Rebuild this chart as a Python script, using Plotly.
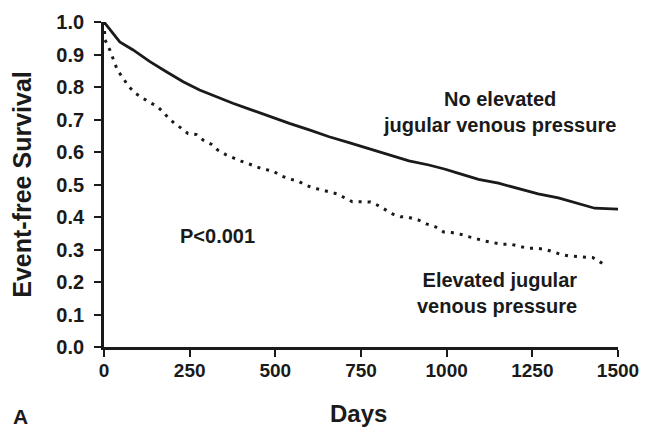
import plotly.graph_objects as go

# Kaplan-Meier curves -----------------------------------------------
days_no_jvp = [0, 3, 46, 85, 134, 182, 231, 279, 328, 376, 424, 483, 541,
               599, 657, 715, 773, 831, 890, 948, 996, 1035, 1093, 1151,
               1209, 1267, 1326, 1384, 1432, 1500]
surv_no_jvp = [1.0, 0.996, 0.939, 0.914, 0.878, 0.847, 0.816, 0.791, 0.770,
               0.750, 0.732, 0.709, 0.688, 0.668, 0.647, 0.629, 0.611, 0.591,
               0.573, 0.560, 0.547, 0.534, 0.516, 0.504, 0.488, 0.471, 0.459,
               0.442, 0.427, 0.424]

days_jvp = [0, 3, 17, 29, 39, 56, 71, 90, 110, 132, 153, 172, 187, 206, 226,
            245, 269, 289, 313, 332, 357, 376, 400, 424, 462, 492, 516, 541,
            565, 589, 608, 633, 657, 681, 706, 725, 749, 778, 797, 817, 843,
            865, 885, 917, 943, 967, 991, 1015, 1040, 1066, 1091, 1112, 1137,
            1161, 1188, 1212, 1236, 1261, 1285, 1311, 1333, 1358, 1382, 1403,
            1427, 1447, 1463]
surv_jvp = [1.0, 0.945, 0.914, 0.880, 0.852, 0.827, 0.803, 0.782, 0.767,
            0.753, 0.742, 0.724, 0.706, 0.688, 0.673, 0.657, 0.654, 0.637,
            0.624, 0.606, 0.591, 0.582, 0.572, 0.563, 0.548, 0.542, 0.527,
            0.517, 0.511, 0.498, 0.490, 0.484, 0.478, 0.471, 0.457, 0.447,
            0.447, 0.446, 0.437, 0.425, 0.409, 0.401, 0.400, 0.391, 0.378,
            0.370, 0.354, 0.352, 0.347, 0.339, 0.331, 0.326, 0.321, 0.316,
            0.316, 0.311, 0.304, 0.304, 0.301, 0.293, 0.285, 0.280, 0.278,
            0.276, 0.275, 0.262, 0.252]

x_ticks = [0, 250, 500, 750, 1000, 1250, 1500]
y_ticks = [0.0, 0.1, 0.2, 0.3, 0.4, 0.5, 0.6, 0.7, 0.8, 0.9, 1.0]

ink = '#1a1a1a'
font = 'Liberation Sans'


def txt(size):
    return dict(family=font, size=size, color=ink, weight='bold')


fig = go.Figure()

fig.add_trace(go.Scatter(x=days_no_jvp, y=surv_no_jvp, mode='lines',
                         line=dict(color=ink, width=2.8),
                         name='No elevated jugular venous pressure'))
fig.add_trace(go.Scatter(x=days_jvp, y=surv_jvp, mode='lines',
                         line=dict(color=ink, width=3, dash='3px,6px'),
                         name='Elevated jugular venous pressure'))

axis_common = dict(showline=True, linewidth=2.8, linecolor=ink,
                   ticks='outside', ticklen=7, tickwidth=2.2, tickcolor=ink,
                   showgrid=False, zeroline=False,
                   ticklabeloverflow='allow', automargin=False)

# page body adds an 8px margin, so the figure is 8px smaller each way
fig.update_layout(
    width=640, height=422,
    margin=dict(l=96, r=30, t=14, b=83),
    paper_bgcolor='white', plot_bgcolor='white',
    showlegend=False,
    xaxis=dict(range=[0, 1500], tickvals=x_ticks,
               ticktext=[str(v) for v in x_ticks], tickfont=txt(19),
               ticklabelstandoff=-3, **axis_common),
    yaxis=dict(range=[0, 1], tickvals=y_ticks,
               ticktext=['%.1f' % v for v in y_ticks], tickfont=txt(20),
               ticklabelstandoff=6, **axis_common),
)

# text labels
fig.add_annotation(x=1154, y=0.724, xref='x', yref='y', showarrow=False,
                   text='No elevated<br>jugular venous pressure', align='center',
                   font=txt(20))
fig.add_annotation(x=1385, y=0.166, xref='x', yref='y', showarrow=False,
                   xanchor='right', align='right',
                   text='Elevated jugular<br>venous pressure', font=txt(20))
fig.add_annotation(x=331, y=0.343, xref='x', yref='y', showarrow=False,
                   text='P<0.001', font=txt(20))

# axis titles and panel letter
fig.add_annotation(x=0.496, y=-0.206, xref='paper', yref='paper',
                   xanchor='center', yanchor='middle',
                   showarrow=False, text='Days', font=txt(24))
fig.add_annotation(x=-0.161, y=0.5, xref='paper', yref='paper',
                   xanchor='center', yanchor='middle',
                   showarrow=False, text='Event-free Survival', textangle=-90,
                   font=txt(25))
fig.add_annotation(x=-0.163, y=-0.215, xref='paper', yref='paper',
                   xanchor='center', yanchor='middle',
                   showarrow=False, text='A', font=txt(21))

fig.write_html("out.html")
